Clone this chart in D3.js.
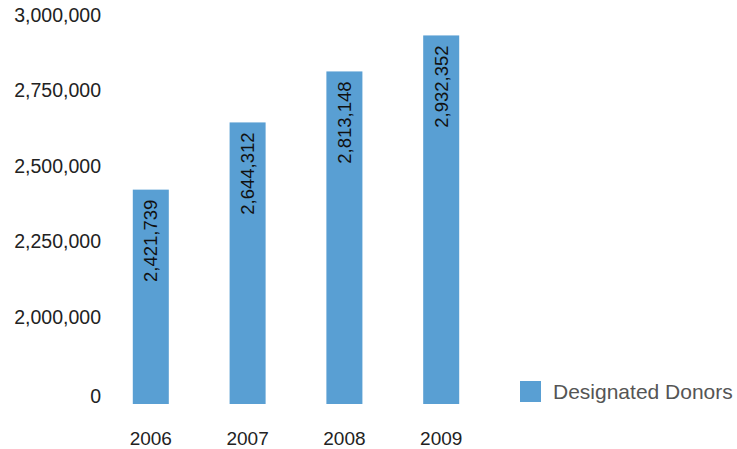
<!DOCTYPE html>
<html>
<head>
<meta charset="utf-8">
<script src="https://cdn.jsdelivr.net/npm/d3@7"></script>
<style>
  body { margin: 0; background: #fff; }
  text { font-family: "Liberation Sans", Arial, sans-serif; }
</style>
</head>
<body>
<div id="chart"></div>
<script>
// data
var years = ["2006", "2007", "2008", "2009"];
var donors = [2421739, 2644312, 2813148, 2932352];
var yTicks = [0, 2000000, 2250000, 2500000, 2750000, 3000000];
var seriesName = "Designated Donors";

var svgWidth = 737;
var svgHeight = 449;
var barColor = "#599fd3";

var svg = d3.select("#chart").append("svg")
  .attr("width", svgWidth)
  .attr("height", svgHeight);

// broken axis: 0 sits just under 2,000,000
var yScale = d3.scaleLinear()
  .domain([0, 2000000, 3000000])
  .range([396, 317, 15]);

var xScale = d3.scaleBand()
  .domain(years)
  .range([72, 520])
  .padding(0.628);

var fmt = d3.format(",");

// y axis
var leftAxis = d3.axisLeft(yScale)
  .tickValues(yTicks)
  .tickFormat(fmt)
  .tickSize(0)
  .tickPadding(0);

var yAxisG = svg.append("g")
  .attr("transform", "translate(101, 0)")
  .call(leftAxis);
yAxisG.select(".domain").remove();
yAxisG.selectAll("text")
  .attr("font-size", 19.5)
  .attr("font-family", "Liberation Sans, Arial, sans-serif")
  .attr("fill", "#222");

// x axis
var bottomAxis = d3.axisBottom(xScale)
  .tickSize(0)
  .tickPadding(0);

var xAxisG = svg.append("g")
  .attr("transform", "translate(0, 431)")
  .call(bottomAxis);
xAxisG.select(".domain").remove();
xAxisG.selectAll("text")
  .attr("font-size", 19)
  .attr("font-family", "Liberation Sans, Arial, sans-serif")
  .attr("fill", "#222");

var data = years.map(function(y, i) { return { year: y, value: donors[i] }; });

// bars hang a little below the 0 tick
var overhang = 8;
svg.append("g").selectAll("rect")
  .data(data)
  .enter()
  .append("rect")
  .attr("x", d => xScale(d.year))
  .attr("y", d => yScale(d.value))
  .attr("width", xScale.bandwidth())
  .attr("height", d => yScale(0) - yScale(d.value) + overhang)
  .attr("fill", barColor);

// value labels inside bars
svg.append("g").selectAll("text")
  .data(data)
  .enter()
  .append("text")
  .attr("transform", d => `translate(${xScale(d.year) + xScale.bandwidth() / 2}, ${yScale(d.value) + 10}) rotate(-90)`)
  .attr("text-anchor", "end")
  .attr("dy", "0.35em")
  .attr("font-size", 18.5)
  .attr("fill", "#111")
  .text(d => fmt(d.value));

// legend
var legend = svg.append("g").attr("transform", "translate(520, 381)");
legend.append("rect")
  .attr("width", 21)
  .attr("height", 21)
  .attr("fill", barColor);
legend.append("text")
  .attr("x", 33)
  .attr("y", 11)
  .attr("dy", "0.35em")
  .attr("font-size", 21)
  .attr("fill", "#555")
  .text(seriesName);
</script>
</body>
</html>
